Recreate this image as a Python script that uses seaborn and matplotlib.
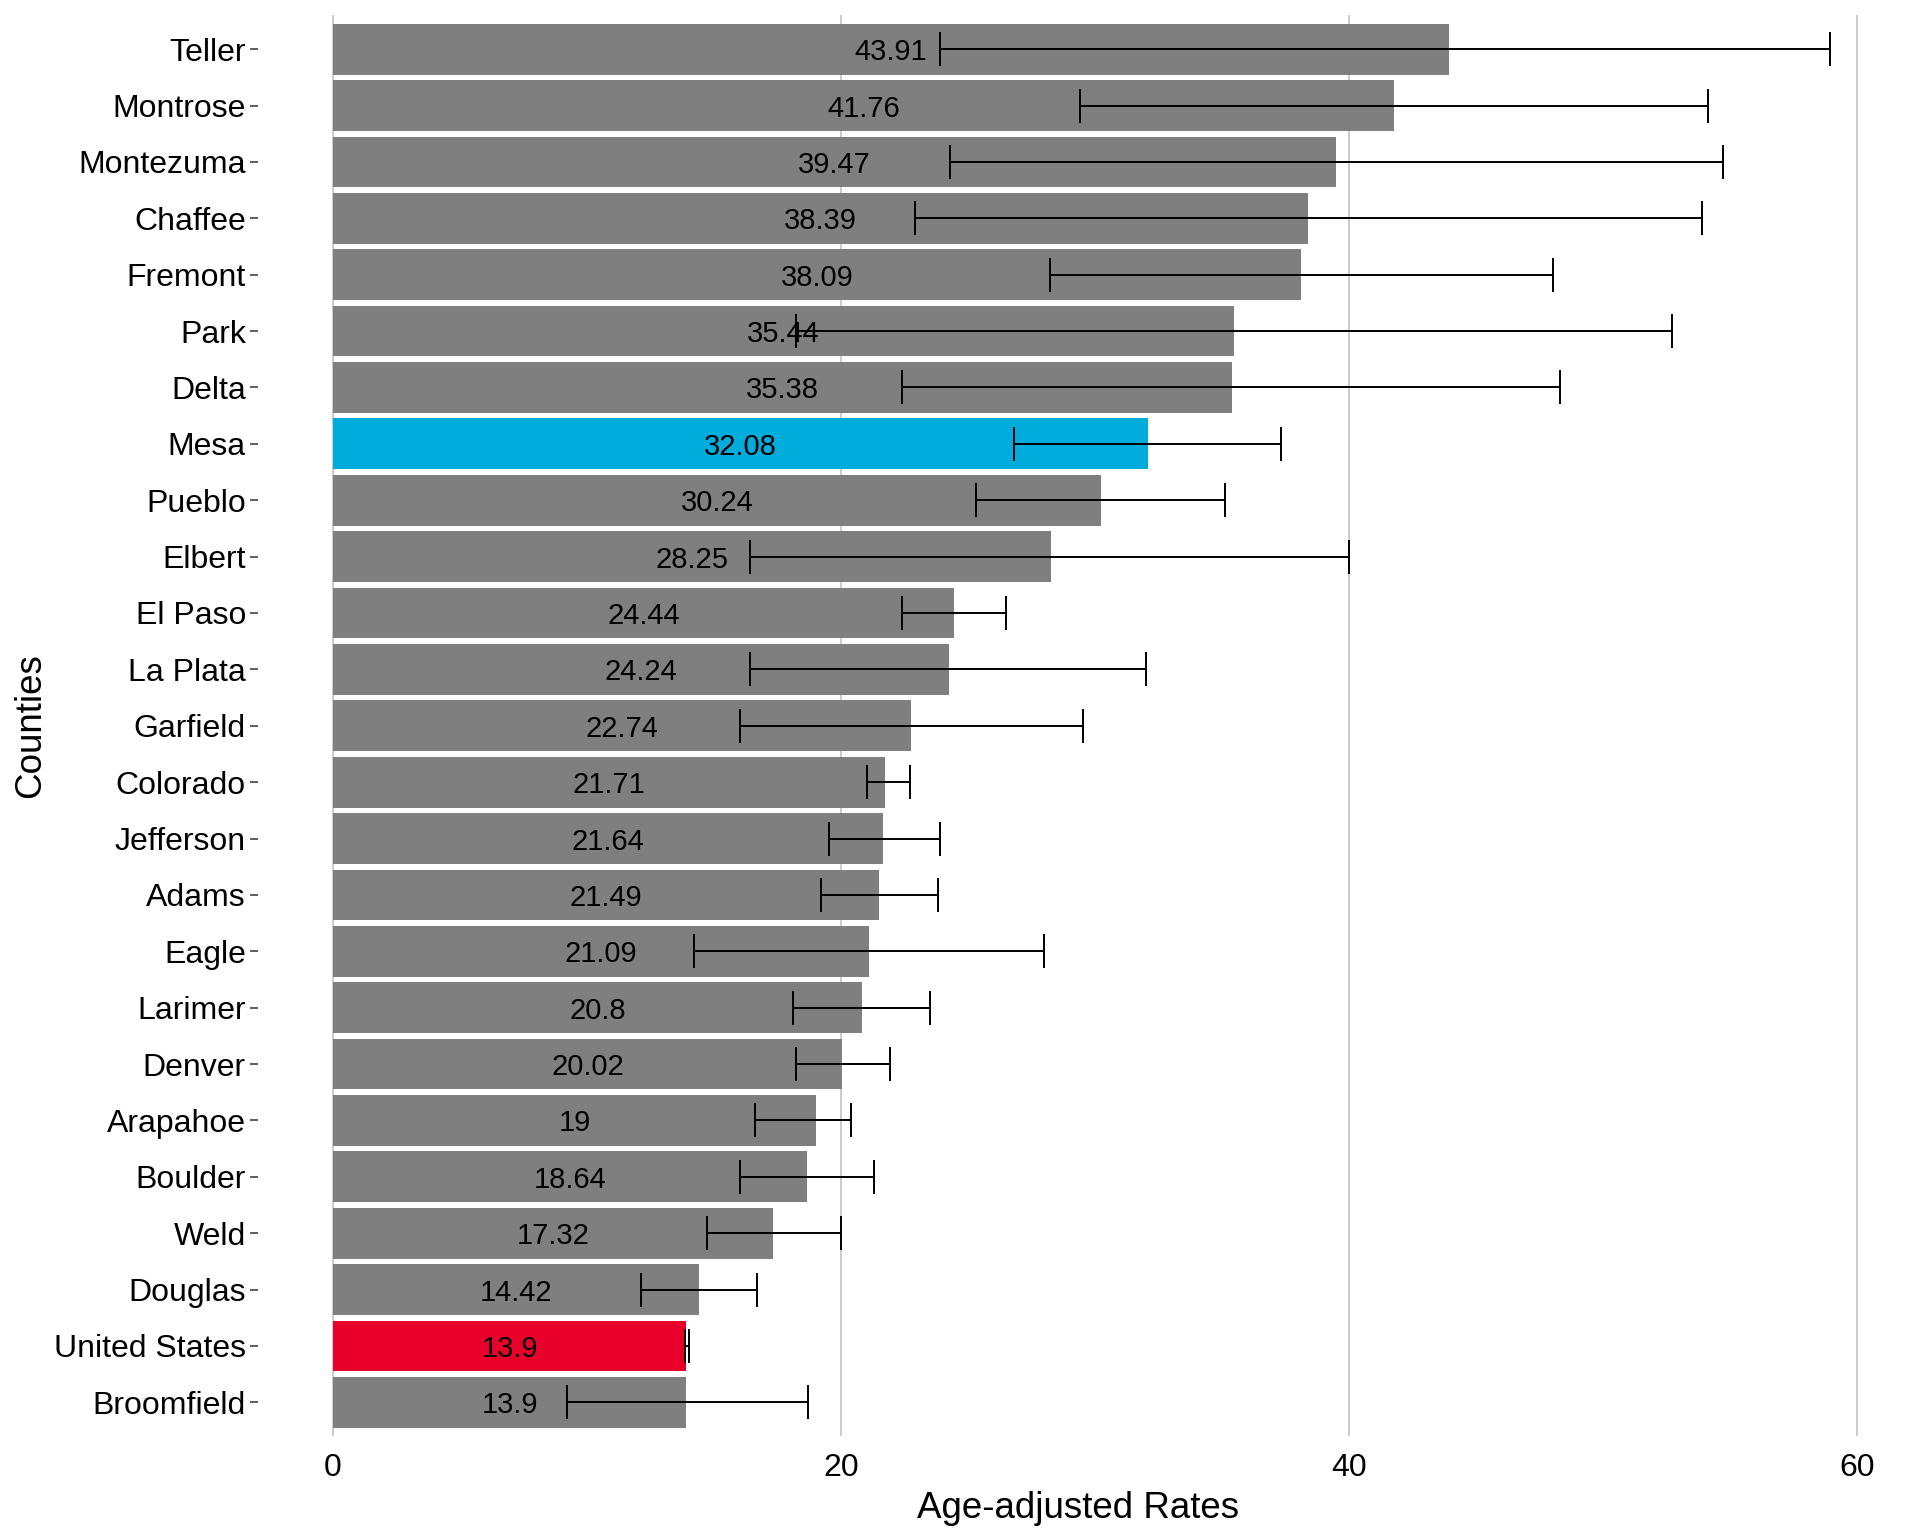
import matplotlib
matplotlib.use("Agg")
import matplotlib.pyplot as plt
import seaborn as sns
import pandas as pd
import numpy as np

counties = ["Teller", "Montrose", "Montezuma", "Chaffee", "Fremont", "Park", "Delta",
            "Mesa", "Pueblo", "Elbert", "El Paso", "La Plata", "Garfield", "Colorado",
            "Jefferson", "Adams", "Eagle", "Larimer", "Denver", "Arapahoe", "Boulder",
            "Weld", "Douglas", "United States", "Broomfield"]
rates = [43.91, 41.76, 39.47, 38.39, 38.09, 35.44, 35.38, 32.08, 30.24, 28.25, 24.44,
         24.24, 22.74, 21.71, 21.64, 21.49, 21.09, 20.8, 20.02, 19, 18.64, 17.32, 14.42,
         13.9, 13.9]
lower = [23.9, 29.4, 24.3, 22.9, 28.2, 18.2, 22.4, 26.8, 25.3, 16.4, 22.4, 16.4, 16.0,
         21.0, 19.5, 19.2, 14.2, 18.1, 18.2, 16.6, 16.0, 14.7, 12.1, 13.85, 9.2]
upper = [58.9, 54.1, 54.7, 53.9, 48.0, 52.7, 48.3, 37.3, 35.1, 40.0, 26.5, 32.0, 29.5,
         22.7, 23.9, 23.8, 28.0, 23.5, 21.9, 20.4, 21.3, 20.0, 16.7, 14.0, 18.7]

grey = "#7F7F7F"
colors = {c: grey for c in counties}
colors["Mesa"] = "#00ACDC"
colors["United States"] = "#E8002B"

df = pd.DataFrame({"county": counties, "rate": rates, "lower": lower, "upper": upper})

sns.set_theme(style="white")
plt.rcParams["font.family"] = ["Liberation Sans", "DejaVu Sans"]

fig = plt.figure(figsize=(19.2, 15.36), dpi=100)
ax = fig.add_axes([0.1346, 0.065, 0.854, 0.925])

ax.set_axisbelow(True)
ax.xaxis.grid(True, color="#BEBEBE", linewidth=1.1)
ax.yaxis.grid(False)

sns.barplot(data=df, y="county", x="rate", hue="county", palette=colors, order=counties,
            orient="h", width=0.9, legend=False, saturation=1, ax=ax, errorbar=None,
            linewidth=0)

ypos = np.arange(len(counties))
xerr = np.array([df["rate"] - df["lower"], df["upper"] - df["rate"]])
ax.errorbar(df["rate"], ypos, xerr=xerr, fmt="none", ecolor="black", elinewidth=1.4,
            capsize=12, capthick=1.4)

for i, r in enumerate(rates):
    ax.text(r / 2, i, f"{r:g}", ha="center", va="center_baseline", fontsize=21,
            color="black")

ax.set_xlim(-2.94, 61.6)
ax.set_ylim(len(counties) - 0.4, -0.6)
ax.set_xticks([0, 20, 40, 60])
ax.set_xticklabels(["0", "20", "40", "60"])
for s in ax.spines.values():
    s.set_visible(False)
ax.tick_params(axis="y", length=6, width=1.1, color="#333333", pad=3, labelsize=23,
               left=True, labelcolor="black")
ax.tick_params(axis="x", length=0, pad=12, labelsize=23, labelcolor="black")
ax.set_xlabel("Age-adjusted Rates", fontsize=26.5, color="black", labelpad=6)
ax.set_ylabel("Counties", fontsize=26.5, color="black", labelpad=4)

fig.savefig("out.png", dpi=100)
